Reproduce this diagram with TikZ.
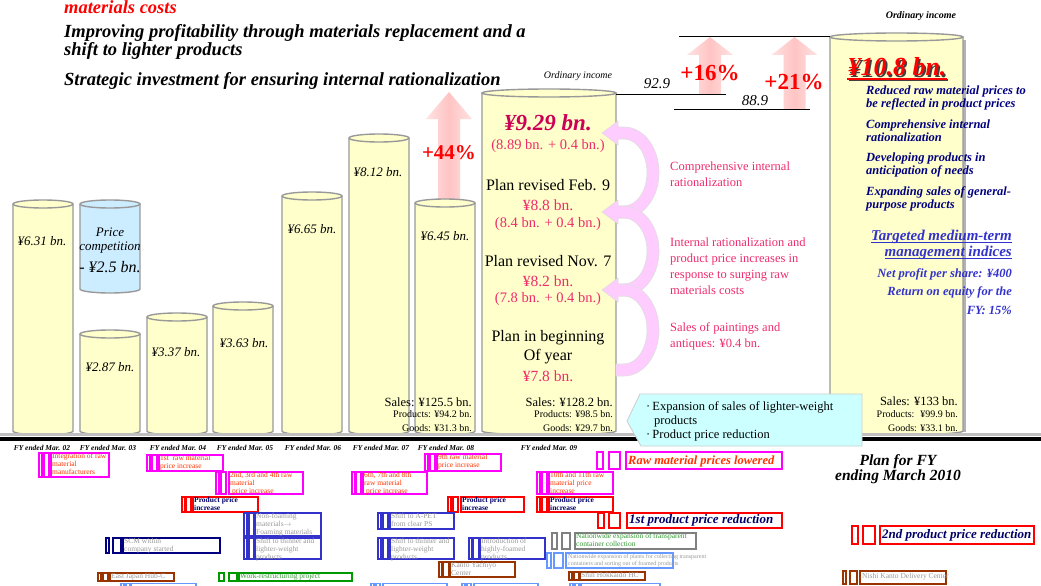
\documentclass[tikz,border=0pt]{standalone}
\usepackage{fontspec}
\setmainfont{Liberation Serif}
\usetikzlibrary{calc}

\definecolor{cylfill}{HTML}{FFFFCC}
\definecolor{cylline}{HTML}{999999}
\definecolor{pricefill}{HTML}{CCECFF}
\definecolor{upfill}{HTML}{FFC4C4}
\definecolor{upedge}{HTML}{FFE2E2}
\definecolor{curvefill}{HTML}{FFCCFF}
\definecolor{curveedge}{HTML}{DDDDDD}
\definecolor{incomered}{HTML}{CC0055}
\definecolor{pinktxt}{HTML}{EE2C6C}
\definecolor{navytxt}{HTML}{000080}
\definecolor{indexblue}{HTML}{3333CC}
\definecolor{calloutfill}{HTML}{CCFFFF}
\definecolor{cmag}{HTML}{FF00FF}
\definecolor{cred}{HTML}{FF0000}
\definecolor{cblue}{HTML}{3333CC}
\definecolor{cnavy}{HTML}{000080}
\definecolor{clblue}{HTML}{6699FF}
\definecolor{cbrown}{HTML}{993300}
\definecolor{cgreen}{HTML}{009900}
\definecolor{cgray}{HTML}{808080}
\definecolor{torange}{HTML}{FF3300}
\definecolor{tgray}{HTML}{999999}
\definecolor{tnavy}{HTML}{000066}
\definecolor{tgreen}{HTML}{339933}

% cylinder: left x, right x, top y, bottom y, fill
\newcommand\cyl[5]{%
  \pgfmathsetmacro\cylrx{(#2-#1)/2}%
  \pgfmathsetmacro\cylcx{(#1+#2)/2}%
  \draw[cyl, fill=#5] (#1,#3) -- (#1,#4)
    arc[start angle=180, end angle=360, x radius=\cylrx pt, y radius=4pt] -- (#2,#3);
  \draw[cyl, fill=#5] (\cylcx,#3) ellipse[x radius=\cylrx pt, y radius=4pt];}

% straight block arrow pointing up: centre x, tip y, head base y, foot y
\newcommand\uparr[4]{%
  \shade[left color=upedge, right color=upedge, middle color=upfill]
   ({#1-11},#4) -- ({#1-11},#3) -- ({#1-23},#3) -- (#1,#2) --
   ({#1+23},#3) -- ({#1+11},#3) -- ({#1+11},#4) -- cycle;}

% curved arrow from the cylinder side back into it: tip y, tail y
\newcommand\curvarr[2]{%
  \pgfmathsetmacro\cbo{(#2-#1)/2+6}%
  \pgfmathsetmacro\cbi{(#2-#1)/2-6}%
  \filldraw[curve] (616,{#2+6}) -- (624,{#2+6})
    arc[start angle=-90, end angle=90, x radius=35pt, y radius=\cbo pt]
    -- (618,{#1-6}) -- (618,{#1-12}) -- (602,#1) -- (618,{#1+12}) -- (618,{#1+6})
    -- (624,{#1+6})
    arc[start angle=90, end angle=-90, x radius=23pt, y radius=\cbi pt]
    -- (616,{#2-6}) -- cycle;}

% timeline markers: colour, x1, w1, x2, w2, top y, bottom y
\newcommand\tlmarks[7]{%
  \draw[tl, #1] (#2,#6) rectangle ({#2+#3},#7);
  \draw[tl, #1] (#4,#6) rectangle ({#4+#5},#7);}
% timeline frame: colour, x1, x2, top y, bottom y
\newcommand\tlframe[5]{\draw[tl, #1] (#2,#4) rectangle (#3,#5);}

\begin{document}
\begin{tikzpicture}[x=1pt, y=-1pt,
  every node/.style={inner sep=0pt},
  cyl/.style={draw=cylline, line width=1.4pt},
  curve/.style={fill=curvefill, draw=curveedge, line width=0.6pt},
  tl/.style={line width=1.1pt},
  title/.style={font=\fontsize{18.5}{20}\selectfont\bfseries\itshape, anchor=base west},
  val/.style={font=\fontsize{13}{15}\selectfont\itshape},
  plan/.style={font=\fontsize{16}{18}\selectfont},
  pinkval/.style={font=\fontsize{15.5}{18}\selectfont, text=pinktxt},
  pinksub/.style={font=\fontsize{14.5}{17}\selectfont, text=pinktxt},
  sales/.style={font=\fontsize{12.5}{14}\selectfont, anchor=east},
  salessub/.style={font=\fontsize{10}{12}\selectfont, anchor=east},
  reason/.style={font=\fontsize{12.5}{16}\selectfont, text=pinktxt, anchor=west, align=left},
  measure/.style={font=\fontsize{12.5}{13}\selectfont\bfseries\itshape, text=navytxt, anchor=west, align=left},
  index/.style={font=\fontsize{12.5}{14}\selectfont\bfseries\itshape, text=indexblue, anchor=east},
  fy/.style={font=\fontsize{7.5}{9}\selectfont\bfseries\itshape},
  pct/.style={font=\fontsize{23}{25}\selectfont\bfseries, text=red},
  tltxt/.style={anchor=north west, align=left, font=\fontsize{7.5}{8}\selectfont},
  tlbig/.style={anchor=west, font=\fontsize{13}{15}\selectfont\bfseries\itshape}]

\fill[white] (0,0) rectangle (1041,586);
\useasboundingbox (0,0) rectangle (1041,586);

% ---------- headline ----------
\node[title, text=red] (t0) at (64,14) {materials costs};
\node[title] (t1) at (64,38) {Improving profitability through materials replacement and a};
\node[title] (t2) at (64,56) {shift to lighter products};
\node[title] (t3) at (64,85) {Strategic investment for ensuring internal rationalization};

% ---------- growth arrows ----------
\uparr{449}{92}{119}{203}
\uparr{710}{37}{55}{94}
\uparr{794.5}{37}{55}{109}

% ---------- cylinders ----------
\cyl{13}{73}{204}{431}{cylfill}
\cyl{80}{140}{204}{289}{pricefill}
\cyl{80}{140}{334}{431}{cylfill}
\cyl{147}{207}{317}{431}{cylfill}
\cyl{213}{273}{306}{431}{cylfill}
\cyl{282}{342}{196}{431}{cylfill}
\cyl{349}{409}{138}{431}{cylfill}
\cyl{415}{475}{203}{431}{cylfill}
\cyl{482}{616}{93}{431}{cylfill}
\fill[black!30] (963,40) rectangle (966,432);
\cyl{830}{963}{37}{431}{cylfill}

% ---------- base line ----------
\draw[line width=3pt, black!25] (0,434.5) -- (1041,434.5);
\draw[line width=4pt, black] (0,439) -- (1041,439);

% ---------- values ----------
\node[val] (v02) at (42,241) {¥6.31 bn.};
\node[val] (pc1) at (110,232) {Price};
\node[val] (pc2) at (110,248) {competition};
\node[val, font=\fontsize{16}{18}\selectfont\itshape] (pc3) at (110,267) {- ¥2.5 bn.};
\node[val] (v03) at (110,367) {¥2.87 bn.};
\node[val] (v04) at (176,352) {¥3.37 bn.};
\node[val] (v05) at (244,343) {¥3.63 bn.};
\node[val] (v06) at (312,229) {¥6.65 bn.};
\node[val] (v07) at (378,172) {¥8.12 bn.};
\node[val] (v08) at (445,236) {¥6.45 bn.};
\node[pct, font=\fontsize{21}{23}\selectfont\bfseries] (p44) at (449,153) {+44\%};

\node[sales] (s08a) at (472,402) {Sales: ¥125.5 bn.};
\node[salessub] (s08b) at (472,414.5) {Products: ¥94.2 bn.};
\node[salessub] (s08c) at (472,428) {Goods: ¥31.3 bn.};

% ---------- current year ----------
\node[font=\fontsize{10}{12}\selectfont\itshape] (oi1) at (578,76) {Ordinary income};
\node[font=\fontsize{23}{25}\selectfont\bfseries\itshape, text=incomered] (i929) at (548,123) {¥9.29 bn.};
\node[pinksub] (i929b) at (548,146.5) {(8.89 bn. + 0.4 bn.)};
\node[plan] (pf1) at (548,185) {Plan revised Feb. 9};
\node[pinkval] (pf2) at (548,205) {¥8.8 bn.};
\node[pinksub] (pf3) at (548,224.5) {(8.4 bn. + 0.4 bn.)};
\node[plan] (pn1) at (548,261) {Plan revised Nov. 7};
\node[pinkval] (pn2) at (548,281) {¥8.2 bn.};
\node[pinksub] (pn3) at (548,299.5) {(7.8 bn. + 0.4 bn.)};
\node[plan] (pb1) at (548,338) {Plan in beginning};
\node[plan] (pb2) at (548,357) {Of year};
\node[pinkval] (pb3) at (548,376) {¥7.8 bn.};
\node[sales] (s09a) at (613,402) {Sales: ¥128.2 bn.};
\node[salessub] (s09b) at (613,414.5) {Products: ¥98.5 bn.};
\node[salessub] (s09c) at (613,428) {Goods: ¥29.7 bn.};

\curvarr{133}{212}
\curvarr{212}{290}
\curvarr{290}{370}

\node[reason] (r1) at (670,174) {Comprehensive internal\\rationalization};
\node[reason] (r2) at (670,266) {Internal rationalization and\\product price increases in\\response to surging raw\\materials costs};
\node[reason] (r3) at (670,336) {Sales of paintings and\\antiques: ¥0.4 bn.};

% ---------- income levels ----------
\draw[line width=1pt] (616,94) -- (726,94);
\draw[line width=1pt] (674,109) -- (810,109);
\draw[line width=1pt] (679,37) -- (830,37);
\node[font=\fontsize{15}{17}\selectfont\itshape] (l929) at (657,84) {92.9};
\node[font=\fontsize{15}{17}\selectfont\itshape] (l889) at (755,101) {88.9};
\node[pct] (p16) at (710,73) {+16\%};
\node[pct] (p21) at (794,82) {+21\%};

% ---------- next year ----------
\node[font=\fontsize{10}{12}\selectfont\bfseries\itshape] (oi2) at (921,16) {Ordinary income};
\node[font=\fontsize{26}{28}\selectfont\bfseries\itshape, text=black!75] (i108s) at (898.5,68.5) {¥10.8 bn.};
\node[font=\fontsize{26}{28}\selectfont\bfseries\itshape, text=red] (i108) at (897,67) {¥10.8 bn.};
\draw[line width=2pt, black!75] ([xshift=1.5pt,yshift=-4.5pt]i108.base west) -- ([xshift=1.5pt,yshift=-4.5pt]i108.base east);
\draw[line width=2pt, red] ([yshift=-3pt]i108.base west) -- ([yshift=-3pt]i108.base east);

\node[measure] (m1) at (866,97.5) {Reduced raw material prices to\\be reflected in product prices};
\node[measure] (m2) at (866,131) {Comprehensive internal\\rationalization};
\node[measure] (m3) at (866,165) {Developing products in\\anticipation of needs};
\node[measure] (m4) at (866,198.5) {Expanding sales of general-\\purpose products};

\node[font=\fontsize{15}{17}\selectfont\bfseries\itshape, text=indexblue, anchor=east] (tg1) at (1012,237) {Targeted medium-term};
\node[font=\fontsize{15}{17}\selectfont\bfseries\itshape, text=indexblue, anchor=east] (tg2) at (1012,253) {management indices};
\draw[line width=1.2pt, indexblue] ([yshift=-2pt]tg1.base west) -- ([yshift=-2pt]tg1.base east);
\draw[line width=1.2pt, indexblue] ([yshift=-2pt]tg2.base west) -- ([yshift=-2pt]tg2.base east);
\node[index] (x1) at (1012,274) {Net profit per share: ¥400};
\node[index] (x2) at (1012,292) {Return on equity for the};
\node[index] (x3) at (1012,310) {FY: 15\%};

\node[sales] (s10a) at (958,401) {Sales: ¥133 bn.};
\node[salessub] (s10b) at (958,414.5) {Products:~ ¥99.9 bn.};
\node[salessub] (s10c) at (958,428) {Goods: ¥33.1 bn.};

% ---------- callout ----------
\filldraw[fill=calloutfill, draw=black!20, line width=0.8pt]
  (640,394) -- (862,394) -- (862,446) -- (641,446) -- (627,421) -- cycle;
\node[font=\fontsize{12.5}{14}\selectfont, anchor=west, align=left] (co) at (646,421)
  {·\,Expansion of sales of lighter-weight\\\hspace*{8pt}products\\·\,Product price reduction};

% ---------- fiscal years ----------
\node[fy] (fy02) at (42,448) {FY ended Mar. 02};
\node[fy] (fy03) at (108,448) {FY ended Mar. 03};
\node[fy] (fy04) at (178,448) {FY ended Mar. 04};
\node[fy] (fy05) at (245,448) {FY ended Mar. 05};
\node[fy] (fy06) at (313,448) {FY ended Mar. 06};
\node[fy] (fy07) at (381,448) {FY ended Mar. 07};
\node[fy] (fy08) at (446,448) {FY ended Mar. 08};
\node[fy] (fy09) at (549,448) {FY ended Mar. 09};
\node[font=\fontsize{15.5}{13}\selectfont\bfseries\itshape, align=center] (fy10) at (898,469.5) {Plan for FY\\ending March 2010};

% ---------- timeline ----------
\tlmarks{cmag}{39}{3}{44}{5}{453}{477}
\tlframe{cmag}{51}{109}{453}{477}
\node[tltxt, text=torange] (e1) at (52,453.5) {Integration of raw\\material\\manufacturers};

\tlmarks{cmag}{147}{3}{152}{5}{455}{471}
\tlframe{cmag}{159}{223}{455}{471}
\node[tltxt, text=torange] (e2) at (160,455.5) {1st~ raw material\\price increase};

\tlmarks{cmag}{216}{3}{221}{5}{472}{494}
\tlframe{cmag}{229}{303}{472}{494}
\node[tltxt, text=torange] (e3) at (230,472.5) {2nd, 3rd and 4th raw\\material\\\hspace*{2pt}price increase};

\tlmarks{cred}{182}{3}{186}{5}{497}{512}
\tlframe{cred}{193}{258}{497}{512}
\node[tltxt, text=tnavy, font=\fontsize{7.5}{8}\selectfont\bfseries] (e4) at (194,497.5) {Product price\\increase};

\tlmarks{cblue}{244}{3}{249}{5}{513}{536}
\tlframe{cblue}{255}{321}{513}{536}
\node[tltxt, text=tgray] (e5) at (256,513.5) {Non-foaming\\materials$\rightarrow$\\Foaming materials};

\tlmarks{cnavy}{106}{3}{113}{8}{538}{553}
\tlframe{cnavy}{123}{220}{538}{553}
\node[tltxt, text=tgray] (e6) at (124,538.5) {SCM within\\company started};

\tlmarks{cblue}{244}{3}{249}{5}{538}{559}
\tlframe{cblue}{255}{321}{538}{559}
\node[tltxt, text=tgray] (e7) at (256,538.5) {Shift to thinner and\\lighter-weight\\products};

\tlmarks{cbrown}{98}{3}{103}{5}{573}{581}
\tlframe{cbrown}{110}{174}{573}{581}
\node[tltxt, text=tgray] (e8) at (111,573) {East Japan Hub-C};

\tlmarks{cgreen}{219}{5}{229}{8}{573}{581}
\tlframe{cgreen}{239}{352}{573}{581}
\node[tltxt, text=tgreen] (e9) at (240,573) {Work-restructuring project};

\tlmarks{cmag}{425}{3}{430}{5}{454}{471}
\tlframe{cmag}{437}{501}{454}{471}
\node[tltxt, text=torange] (e10) at (438,454.5) {9th raw material\\price increase};

\tlmarks{cmag}{352}{3}{356}{5}{472}{494}
\tlframe{cmag}{363}{427}{472}{494}
\node[tltxt, text=torange] (e11) at (364,472.5) {6th, 7th and 8th\\raw material\\\hspace*{2pt}price increase};

\tlmarks{cred}{448}{3}{453}{5}{497}{512}
\tlframe{cred}{461}{524}{497}{512}
\node[tltxt, text=tnavy, font=\fontsize{7.5}{8}\selectfont\bfseries] (e12) at (462,497.5) {Product price\\increase};

\tlmarks{cmag}{537}{3}{542}{5}{472}{494}
\tlframe{cmag}{549}{613}{472}{494}
\node[tltxt, text=torange] (e13) at (550,472.5) {10th and 11th raw\\material price\\increase};

\tlmarks{cred}{537}{3}{542}{5}{497}{512}
\tlframe{cred}{549}{613}{497}{512}
\node[tltxt, text=tnavy, font=\fontsize{7.5}{8}\selectfont\bfseries] (e14) at (550,497.5) {Product price\\increase};

\tlmarks{cmag}{597}{6}{609}{11}{452}{469}
\tlframe{cmag}{626}{782}{452}{469}
\node[tlbig, text=torange, font=\fontsize{12.5}{14}\selectfont\bfseries\itshape] (e15) at (628,461) {Raw material prices lowered};

\tlmarks{cred}{598}{6}{609}{11}{513}{528}
\tlframe{cred}{627}{782}{513}{528}
\node[tlbig, text=tnavy] (e16) at (629,520.5) {1st product price reduction};

\tlmarks{cblue}{378}{3}{383}{5}{513}{529}
\tlframe{cblue}{390}{454}{513}{529}
\node[tltxt, text=tgray] (e17) at (391,513.5) {Shift to A-PET\\from clear PS};

\tlmarks{cblue}{378}{3}{383}{5}{538}{559}
\tlframe{cblue}{390}{454}{538}{559}
\node[tltxt, text=tgray] (e18) at (391,538.5) {Shift to thinner and\\lighter-weight\\products};

\tlmarks{cblue}{469}{3}{473}{6}{538}{559}
\tlframe{cblue}{480}{545}{538}{559}
\node[tltxt, text=tgray] (e19) at (481,538.5) {Introduction of\\highly-foamed\\products};

\tlmarks{cgray}{552}{5}{562}{8}{533}{549}
\tlframe{cgray}{575}{696}{533}{549}
\node[tltxt, text=tgreen] (e20) at (576,533.5) {Nationwide expansion of transparent\\container collection};

\tlmarks{clblue}{547}{4}{554}{9}{553}{568}
\tlframe{clblue}{566}{673}{553}{568}
\node[tltxt, text=tgray, font=\fontsize{6}{7.5}\selectfont] (e21) at (568,554) {Nationwide expansion of plants for collecting transparent\\containers and sorting out of foamed products};

\tlmarks{cbrown}{439}{3}{443}{6}{562}{577}
\tlframe{cbrown}{450}{515}{562}{577}
\node[tltxt, text=tgray] (e22) at (451,562.5) {Kanto Yachiyo\\Center};

\tlmarks{cbrown}{569}{3}{574}{5}{572}{580}
\tlframe{cbrown}{580}{645}{572}{580}
\node[tltxt, text=tgray] (e23) at (581,572) {Shin Hokkaido HC};

\tlmarks{cbrown}{843}{3}{850}{7}{571}{584}
\tlframe{cbrown}{860}{946}{571}{584}
\node[tltxt, text=tgray] (e24) at (862,573.5) {Nishi Kanto Delivery Center};

\tlmarks{cred}{852}{6}{863}{12}{526}{544}
\tlframe{cred}{880}{1034}{526}{544}
\node[tlbig, text=tnavy] (e25) at (882,535) {2nd product price reduction};

% items continuing below the edge
\tlmarks{clblue}{121}{3}{126}{4}{583.5}{592}
\tlframe{clblue}{131}{196}{583.5}{592}
\tlmarks{clblue}{371}{3}{376}{4}{583.5}{592}
\tlframe{clblue}{383}{447}{583.5}{592}
\tlmarks{clblue}{462}{3}{467}{4}{583.5}{592}
\tlframe{clblue}{474}{538}{583.5}{592}
\tlmarks{clblue}{570}{3}{575}{4}{583.5}{592}
\tlframe{clblue}{581}{660}{583.5}{592}

\end{tikzpicture}
\end{document}
